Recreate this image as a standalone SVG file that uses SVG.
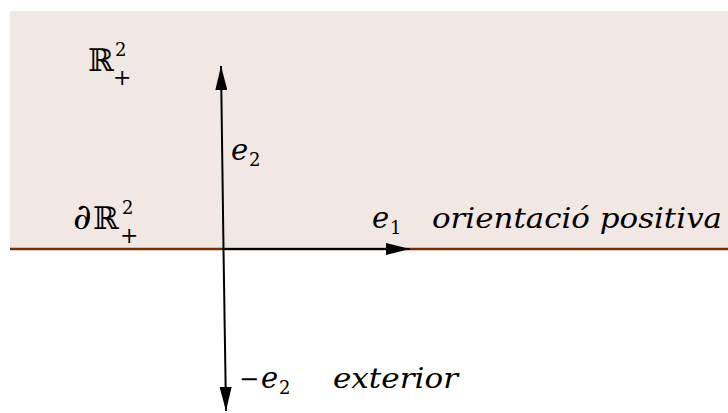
<svg xmlns="http://www.w3.org/2000/svg" width="728" height="413" viewBox="0 0 728 413">
<defs>
<style>
.m{font-family:"DejaVu Serif",serif;font-style:italic;font-size:29px;fill:#000}
.w{font-family:"DejaVu Serif",serif;font-style:italic;font-size:27px;fill:#000}
.r{font-family:"DejaVu Serif",serif;font-size:24px;fill:#000}
.d{font-family:"DejaVu Serif",serif;font-style:italic;font-size:36px;fill:#000}
.bb{font-family:"DejaVu Serif",serif;font-size:31px;fill:#000}
.s{font-family:"DejaVu Serif",serif;font-style:normal;font-size:18px;fill:#000}
.p{font-family:"DejaVu Serif",serif;font-style:normal;font-size:22px;fill:#000}
.ax{stroke:#000;stroke-width:2;fill:none}
</style>
<marker id="ah" viewBox="0 0 24 12" refX="24" refY="6" markerWidth="24" markerHeight="12" markerUnits="userSpaceOnUse" orient="auto">
<path d="M0,0 L24,6 L0,12 Z" fill="#000"/>
</marker>
</defs>
<rect id="halfplane" x="10" y="11" width="718" height="238" fill="#f2e8e3"/>
<g id="connectors">
<line x1="10" y1="249" x2="728" y2="249" stroke="#7a2e00" stroke-width="2.5"/>
<line class="ax" x1="222" y1="249" x2="410" y2="249" marker-end="url(#ah)"/>
<line class="ax" x1="223.5" y1="249" x2="221" y2="66" marker-end="url(#ah)"/>
<line class="ax" x1="223.5" y1="249" x2="226" y2="411" marker-end="url(#ah)"/>
</g>
<g id="label-R2plus">
<text class="bb" x="88" y="71">ℝ</text>
<text class="s" x="115" y="56">2</text>
<text class="p" x="113" y="85">+</text>
</g>
<g id="label-boundary">
<text class="d" x="73" y="229">∂</text>
<text class="bb" x="93" y="229">ℝ</text>
<text class="s" x="122" y="214">2</text>
<text class="p" x="120" y="243">+</text>
</g>
<g id="label-e2">
<text class="m" x="231" y="160">e</text>
<text class="s" x="249" y="166">2</text>
</g>
<g id="label-e1">
<text class="m" x="372" y="228">e</text>
<text class="s" x="390" y="234">1</text>
</g>
<g id="label-orient">
<text class="w" x="432" y="228" textLength="290" lengthAdjust="spacingAndGlyphs">orientació positiva</text>
</g>
<g id="label-me2">
<text class="r" x="239" y="387">−</text>
<text class="m" x="261" y="388">e</text>
<text class="s" x="279" y="394">2</text>
</g>
<g id="label-exterior">
<text class="w" x="333" y="388" textLength="125" lengthAdjust="spacingAndGlyphs">exterior</text>
</g>
</svg>
